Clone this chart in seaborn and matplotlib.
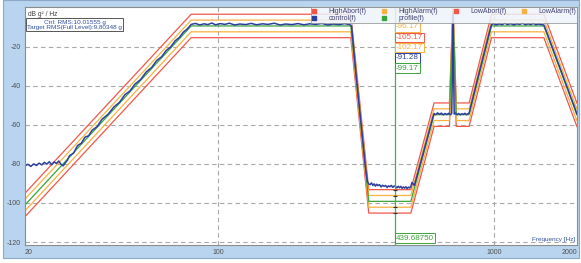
import numpy as np
import pandas as pd
import seaborn as sns
import matplotlib.pyplot as plt
from matplotlib.lines import Line2D
from matplotlib.patches import Rectangle

# profile breakpoints (Hz, dB g^2/Hz)
profile_freq = [20, 80, 303, 352, 500, 607, 690, 711, 730, 813, 980, 1517, 2000]
profile_db = [-101.0, -9.4, -9.4, -99.17, -99.17, -54.8, -54.8, -2.0, -54.8,
              -54.8, -9.4, -9.4, -55.0]

# alarm / abort limits relative to the profile
limit_names = ['HighAbort(f)', 'HighAlarm(f)', 'LowAbort(f)', 'LowAlarm(f)']
limit_offsets = [6, 3, -6, -3]

control_freq = [20, 20.5, 21, 21.5, 22, 22.5, 23, 23.5, 24, 24.5, 25, 25.5, 26, 26.5,
                27, 27.5, 28, 28.5, 29, 30, 31, 32, 33, 34, 35, 36.5, 38, 40, 42, 44,
                46, 48, 50, 52.5, 55, 57.5, 60, 62.5, 65, 67.5, 70, 72.5, 75, 77.5, 80,
                83, 86, 89, 92, 95, 98, 102, 106, 110, 115, 120, 126, 132, 138, 145,
                152, 160, 168, 176, 185, 195, 205, 215, 226, 238, 250, 262, 275, 288,
                300, 305, 315, 325, 335, 342, 348, 352,
                356, 360, 364, 368, 372, 376, 380, 385, 390, 395, 400, 405, 410, 415,
                420, 425, 430, 435, 440, 445, 450, 455, 460, 465, 470, 475, 480, 485,
                490, 495, 500, 505, 515, 530, 545, 560, 575, 590, 600, 607,
                615, 625, 635, 645, 655, 665, 675, 685, 695, 703, 708, 711, 714, 718,
                725, 735, 745, 755, 765, 775, 785, 795, 805, 813,
                830, 850, 870, 895, 920, 940, 960, 980,
                1000, 1020, 1045, 1070, 1095, 1120, 1150, 1180, 1210, 1240, 1270, 1300,
                1330, 1360, 1390, 1420, 1450, 1480, 1517,
                1560, 1600, 1650, 1700, 1750, 1800, 1850, 1900, 1950, 2000]
control_db = [-81.0, -80.2, -81.3, -80.0, -80.8, -79.6, -80.5, -79.2, -80.1, -78.9, -80.4,
              -79.0, -79.8, -78.5, -80.2, -81.0, -79.5, -78.0, -75.8, -74.5, -70.6, -69.4,
              -66.3, -65.6, -62.8, -60.9, -57.2, -54.6, -50.8, -48.5, -44.6, -42.7, -39.2,
              -36.8, -32.9, -30.7, -27.1, -25.2, -21.9, -20.1, -17.0, -15.3, -12.5, -10.9,
              -8.6,
              -8.1, -8.9, -8.3, -8.7, -7.9, -8.8, -8.2, -8.6, -8.0, -8.9, -8.4, -8.7, -8.1,
              -8.8, -8.3, -8.6, -8.0, -8.9, -8.4, -8.7, -8.2, -8.8, -8.3, -8.6, -8.1, -8.9,
              -8.4, -8.7, -8.2, -8.7, -9.5, -31.0, -50.0, -68.0, -81.0, -89.0, -90.3,
              -90.6, -89.7, -91.0, -90.2, -91.4, -90.4, -91.1, -90.6, -91.8, -90.9, -91.5,
              -91.0, -92.1, -91.2, -91.7, -91.0, -92.0, -91.3, -91.6, -92.3, -91.4, -92.2,
              -91.5, -92.5, -91.8, -92.4, -91.7, -92.6, -91.9, -92.3, -91.5, -89.5, -91.0,
              -84.6, -78.3, -72.1, -66.0, -60.2, -56.5, -54.2,
              -54.8, -53.9, -54.6, -54.0, -54.9, -54.2, -54.7, -54.1, -54.8, -54.3, -30.0,
              -3.0, -30.0, -54.5, -54.0, -54.8, -54.2, -54.9, -54.3, -54.7, -54.1, -54.8,
              -54.3, -54.0,
              -48.8, -43.0, -37.2, -30.4, -23.6, -18.5, -13.3, -8.7,
              -8.2, -8.9, -8.3, -8.8, -8.0, -8.7, -8.2, -8.9, -8.3, -8.6, -8.0, -8.8, -8.3,
              -8.7, -8.1, -8.8, -8.4, -8.7, -8.9,
              -13.3, -17.5, -22.6, -27.5, -32.2, -37.0, -41.3, -46.0, -50.1, -54.6]

# cursor readout (the HighAbort box sits under the legend in the original)
cursor_freq = 439.6875
readout_names = ['HighAlarm(f)', 'LowAbort(f)', 'LowAlarm(f)', 'control(f)', 'profile(f)']
readout_values = [-96.17, -105.17, -102.17, -91.28, -99.17]
marker_values = [-93.17, -96.17, -105.17, -102.17]

colors = {'HighAbort(f)': '#f2564a', 'HighAlarm(f)': '#f7b241',
          'LowAbort(f)': '#f2564a', 'LowAlarm(f)': '#f7b241',
          'control(f)': '#2c3f9e', 'profile(f)': '#3aa43a'}

rows = []
for name, off in zip(limit_names, limit_offsets):
    for f, d in zip(profile_freq, profile_db):
        rows.append((name, f, d + off))
for f, d in zip(profile_freq, profile_db):
    rows.append(('profile(f)', f, d))
limits = pd.DataFrame(rows, columns=['series', 'freq', 'db'])
control = pd.DataFrame({'freq': control_freq, 'db': control_db})

sns.set_theme(style='white')
plt.rcParams['font.family'] = ['Liberation Sans', 'DejaVu Sans']

fig = plt.figure(figsize=(5.81, 2.63), dpi=100, facecolor='white')
fig.patches.append(Rectangle((3 / 581, 5 / 263), 576 / 581, 1 - 5 / 263,
                             transform=fig.transFigure, facecolor='#b9d4ee',
                             edgecolor='#8aa8c8', linewidth=0.8, zorder=-1))
ax = fig.add_axes([25 / 581, 18 / 263, 552 / 581, 238 / 263])
ax.set_facecolor('white')

sns.lineplot(data=limits, x='freq', y='db', hue='series', palette=colors,
             estimator=None, sort=False, linewidth=0.9, legend=False, ax=ax)
sns.lineplot(data=control, x='freq', y='db', color=colors['control(f)'],
             estimator=None, sort=False, linewidth=1.1, ax=ax)

ax.set_xscale('log')
ax.set_xlim(20, 2000)
ax.set_ylim(-121.5, 0.3)
ax.set_xlabel('')
ax.set_ylabel('')

ax.set_yticks([-20, -40, -60, -80, -100, -120])
ax.set_yticklabels(['-20', '-40', '-60', '-80', '-100', '-120'])
ax.set_xticks([20, 100, 1000, 2000])
ax.set_xticklabels(['20', '100', '1000', '2000'])
ax.minorticks_off()
ax.tick_params(length=0, labelsize=5, colors='#505050', pad=3)
xl = ax.get_xticklabels()
xl[0].set_ha('left')
xl[-1].set_ha('right')

for y in [-20, -40, -60, -80, -100, -120]:
    ax.axhline(y, color='#a8a8a8', lw=0.8, ls=(0, (4, 3)), zorder=0)
for x in [100, 1000]:
    ax.axvline(x, color='#a8a8a8', lw=0.8, ls=(0, (4, 3)), zorder=0)
for s in ax.spines.values():
    s.set_color('#8c8c8c')
    s.set_linewidth(0.8)

# cursor line and readouts
ax.axvline(cursor_freq, color='#44b044', lw=0.9, zorder=3)
ax.plot([cursor_freq] * len(marker_values), marker_values, ls='none', marker='_',
        ms=3, mew=0.8, color='#303030', zorder=4)
tr = ax.get_xaxis_transform()
for i, (name, val) in enumerate(zip(readout_names, readout_values)):
    yfrac = 1 - (27 + i * 10.3 - 7) / 238
    ax.text(cursor_freq * 1.006, yfrac, f'{val:.2f}', transform=tr, fontsize=5.8,
            color=colors[name], va='center', ha='left', zorder=5,
            bbox=dict(boxstyle='square,pad=0.15', fc='white', ec=colors[name], lw=0.7))
ax.text(cursor_freq * 1.006, 1 - (238 - 7) / 238, f'{cursor_freq:.5f}', transform=tr,
        fontsize=5.8, color=colors['profile(f)'], va='center', ha='left', zorder=5,
        bbox=dict(boxstyle='square,pad=0.15', fc='white', ec=colors['profile(f)'], lw=0.7))

# annotations
ax.text(0.006, 0.985, 'dB g² / Hz', transform=ax.transAxes, fontsize=4.8,
        color='#404040', va='top', ha='left')
ax.text(0.09, 0.925, 'Ctrl: RMS:10.01555 g\nTarget RMS(Full Level):9.80348 g',
        transform=ax.transAxes, fontsize=4.6, color='#2f4f9f', va='center',
        ha='center', linespacing=1.1,
        bbox=dict(boxstyle='square,pad=0.2', fc='white', ec='#555555', lw=0.7))
ax.text(0.997, 0.012, 'Frequency [Hz]', transform=ax.transAxes, fontsize=4.6,
        color='#2f4f9f', va='bottom', ha='right')

order = ['HighAbort(f)', 'control(f)', 'HighAlarm(f)', 'profile(f)',
         'LowAbort(f)', 'LowAlarm(f)']
handles = [Line2D([], [], ls='none', marker='s', ms=2.6, color=colors[n]) for n in order]
leg = ax.legend(handles, order, ncol=4, loc='upper right', bbox_to_anchor=(1, 1),
                borderaxespad=0, fontsize=5, frameon=True, fancybox=False,
                framealpha=0.85, edgecolor='#8c8c8c', handlelength=0.8,
                handletextpad=1.6, columnspacing=2.2, labelspacing=0.0,
                borderpad=0.15)
leg.get_frame().set_facecolor('#eef4fb')
leg.get_frame().set_linewidth(0.6)
for t in leg.get_texts():
    t.set_color('#404070')
leg.set_zorder(10)

fig.savefig('out.png', dpi=100, facecolor=fig.get_facecolor())
